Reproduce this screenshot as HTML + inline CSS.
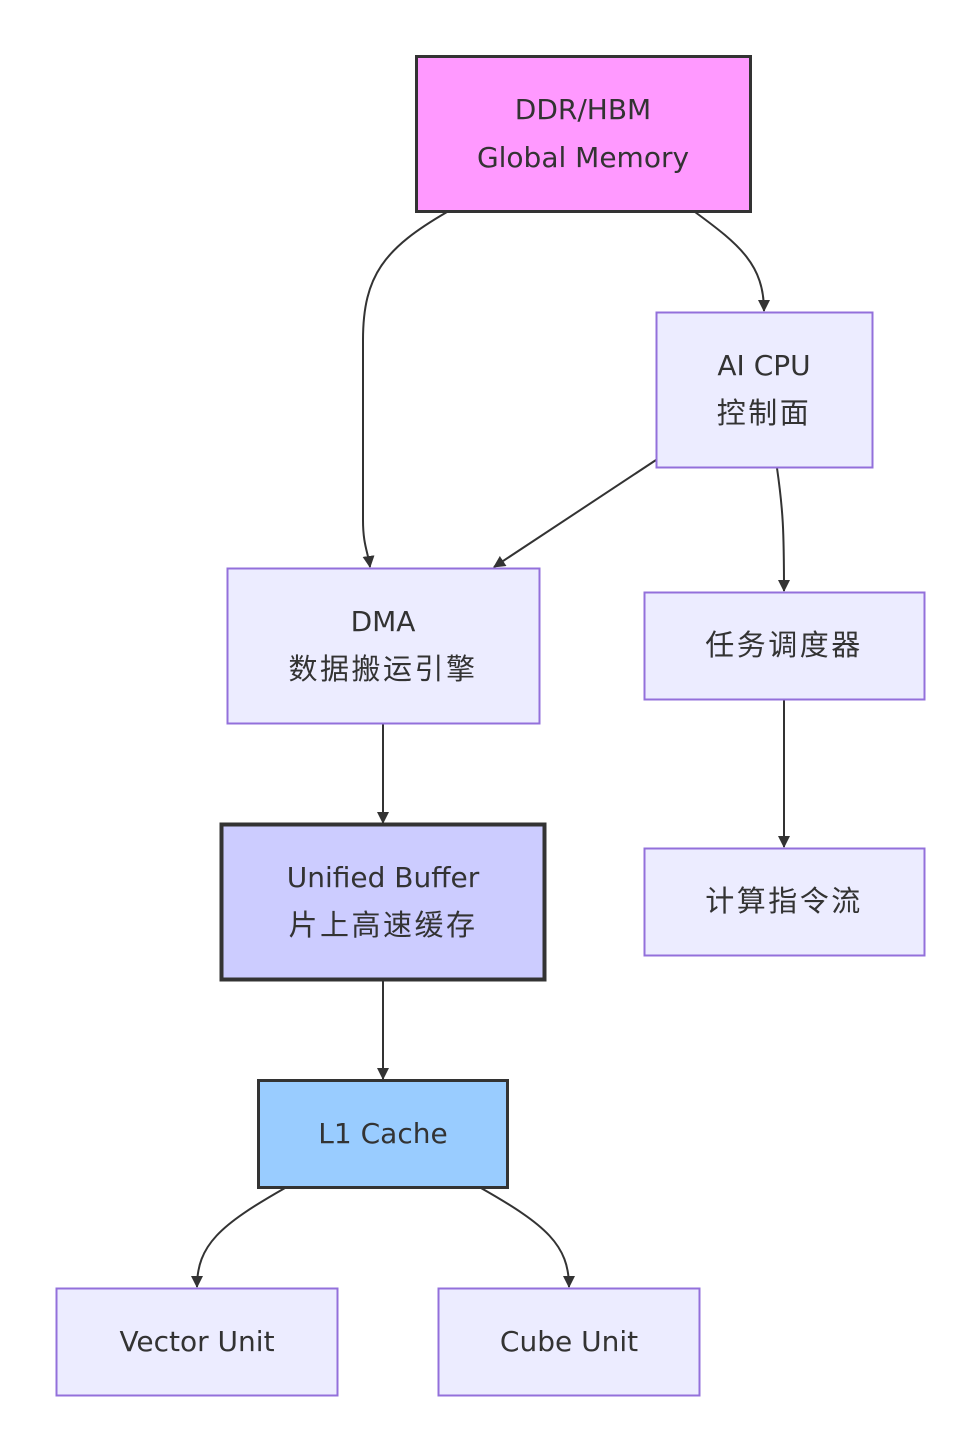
<!DOCTYPE html>
<html><head><meta charset="utf-8"><style>
html,body{margin:0;padding:0;background:#fff;}
svg{display:block;}
text{font-family:"DejaVu Sans","Noto Sans CJK SC",sans-serif;font-size:28px;fill:#333;text-anchor:middle;}
text.c{font-family:"Noto Sans CJK SC",sans-serif;font-size:29px;letter-spacing:2.5px;}
</style></head><body>
<svg width="980" height="1452" viewBox="0 0 980 1452" xmlns="http://www.w3.org/2000/svg">
<defs>
<marker id="a" markerWidth="12" markerHeight="12" refX="11" refY="6" orient="auto" markerUnits="userSpaceOnUse">
<path d="M0,0 L12,6 L0,12 z" fill="#333"/>
</marker>
</defs>
<g fill="none" stroke="#333" stroke-width="2" marker-end="url(#a)">
<path d="M447,212 C385,248 363,275 363,340 L363,520 C363,545 368,552 370,567"/>
<path d="M695,212 C740,245 764,265 764,311"/>
<path d="M656,460 L494,567"/>
<path d="M777,468 C783,510 784,530 784,591"/>
<path d="M383,724 L383,823"/>
<path d="M784,700 L784,847"/>
<path d="M383,980 L383,1079"/>
<path d="M285,1188 C220,1225 197,1245 197,1287"/>
<path d="M481,1188 C546,1225 569,1245 569,1287"/>
</g>
<rect x="416.5" y="56.5" width="334" height="155" fill="#ff99ff" stroke="#333" stroke-width="3"/>
<text x="583" y="119">DDR/HBM</text><text x="583" y="167">Global Memory</text>
<rect x="656.5" y="312.5" width="216" height="155" fill="#ececff" stroke="#9370db" stroke-width="2"/>
<text x="764" y="375">AI CPU</text><text class="c" x="764" y="423">控制面</text>
<rect x="227.5" y="568.5" width="312" height="155" fill="#ececff" stroke="#9370db" stroke-width="2"/>
<text x="383" y="631">DMA</text><text class="c" x="383" y="679">数据搬运引擎</text>
<rect x="644.5" y="592.5" width="280" height="107" fill="#ececff" stroke="#9370db" stroke-width="2"/>
<text class="c" x="784" y="655">任务调度器</text>
<rect x="221.5" y="824.5" width="323" height="155" fill="#ccccff" stroke="#333" stroke-width="4"/>
<text x="383" y="887">Unified Buffer</text><text class="c" x="383" y="935">片上高速缓存</text>
<rect x="644.5" y="848.5" width="280" height="107" fill="#ececff" stroke="#9370db" stroke-width="2"/>
<text class="c" x="784" y="911">计算指令流</text>
<rect x="258.5" y="1080.5" width="249" height="107" fill="#99ccff" stroke="#333" stroke-width="3"/>
<text x="383" y="1143">L1 Cache</text>
<rect x="56.5" y="1288.5" width="281" height="107" fill="#ececff" stroke="#9370db" stroke-width="2"/>
<text x="197" y="1351">Vector Unit</text>
<rect x="438.5" y="1288.5" width="261" height="107" fill="#ececff" stroke="#9370db" stroke-width="2"/>
<text x="569" y="1351">Cube Unit</text>
</svg>
</body></html>
